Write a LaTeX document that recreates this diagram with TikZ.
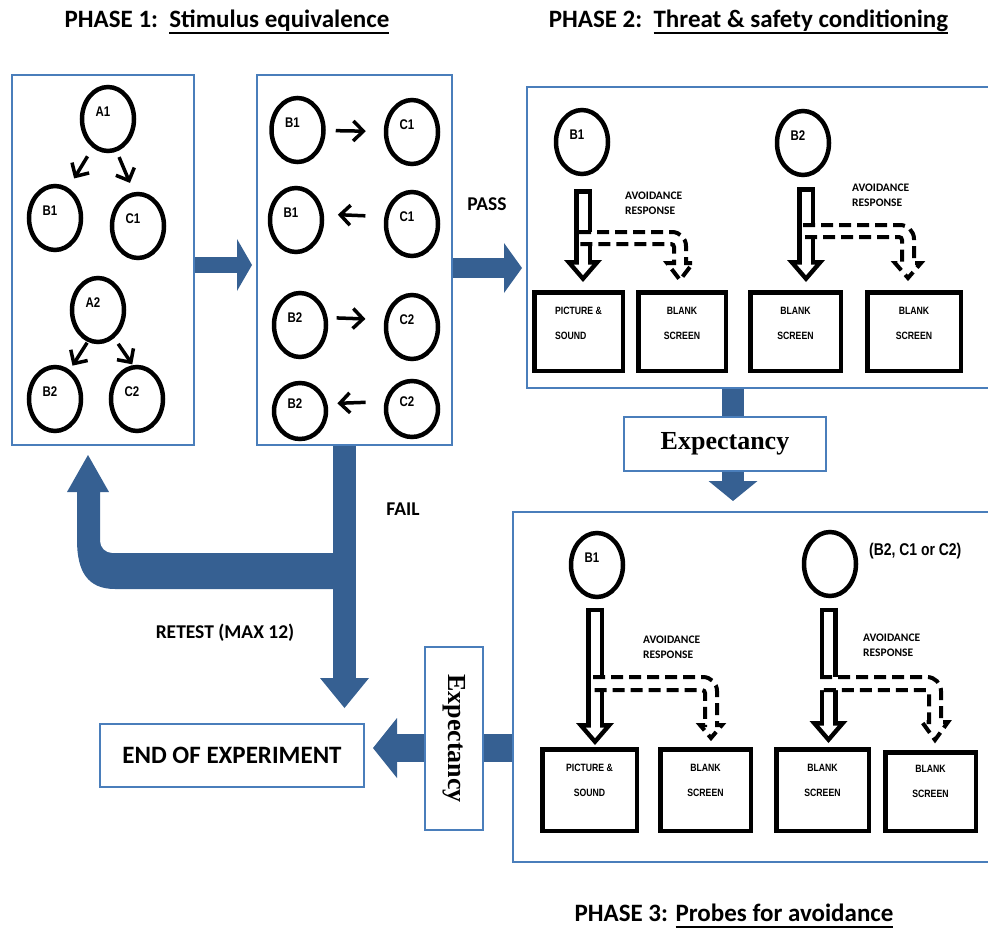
\documentclass[tikz,border=0pt]{standalone}
\usepackage{fontspec}
\setmainfont{Carlito}
\newfontfamily\narrowfont{Liberation Sans}[FakeStretch=0.82]
\newfontfamily\timesfont{Liberation Serif}
\usepackage{graphicx}
\usetikzlibrary{shapes.geometric}
\usetikzlibrary{arrows.meta}
\usetikzlibrary{calc}

\definecolor{arrowblue}{RGB}{54,96,146}
\definecolor{lineblue}{RGB}{74,126,187}

\newsavebox{\ulsave}
\newcommand{\phaseul}[1]{\sbox{\ulsave}{#1}\rlap{\rule[-7pt]{\wd\ulsave}{2.5pt}}\usebox{\ulsave}}

\tikzset{
  heading/.style={font=\bfseries\fontsize{25}{30}\selectfont, inner sep=0pt},
  plain/.style={font=\bfseries\fontsize{19.5}{22}\selectfont, inner sep=0pt},
  avoid/.style={font=\bfseries\fontsize{11.5}{15}\selectfont, inner sep=0pt, align=left, anchor=north west},
  phasebox/.style={draw=lineblue, line width=2pt, inner sep=0pt},
  expbox/.style={draw=lineblue, line width=2pt, fill=white, inner sep=0pt, font=\timesfont\bfseries\fontsize{26}{30}\selectfont},
  stim/.style={draw, ellipse, line width=4.5pt, minimum width=52pt, minimum height=64pt, inner sep=0pt, label={[stimtext]center:#1}},
  stimtext/.style={font=\narrowfont\bfseries\fontsize{14}{16}\selectfont, xshift=-5pt, yshift=7pt},
  screen/.style={draw, line width=4.5pt, minimum height=78.5pt, inner sep=0pt, align=center, text height=33pt, text depth=17.6pt, font=\narrowfont\bfseries\fontsize{10.6}{25}\selectfont},
  tinyarr/.style={line width=3.5pt, -{Straight Barb[length=10pt,width=20pt]}},
  hollow/.style={line width=18pt, -{Triangle[length=22pt,width=38pt,line width=0pt]},
    postaction={draw=white, line width=9pt, shorten <=4.5pt, shorten >=6.9pt, -{Triangle[length=10.6pt,width=18.3pt,line width=0pt]}}},
  dashbent/.style={line width=4pt, dash pattern=on 12pt off 6pt, preaction={fill=white}}
}

\begin{document}
\begin{tikzpicture}[x=1pt,y=-1pt]
\useasboundingbox (0,0) rectangle (988,929);

% headings
\node[heading, anchor=base] (h1) at (227,27) {PHASE 1:\ \ \phaseul{Stimulus equivalence}};
\node[heading, anchor=base] (h2) at (748.5,27) {PHASE 2:\ \ \phaseul{Threat \& safety conditioning}};
\node[heading, anchor=base] (h3) at (734,921) {PHASE 3: \phaseul{Probes for avoidance}};

% phase boxes
\node[phasebox, minimum width=182pt, minimum height=370pt] (eq1) at (103,260) {};
\node[phasebox, minimum width=195pt, minimum height=370pt] (eq2) at (354.5,260) {};
\node[phasebox, minimum width=463pt, minimum height=301pt] (cond) at (758.5,237.5) {};
\node[phasebox, minimum width=477pt, minimum height=350pt] (probe) at (751.5,687) {};
\node[expbox, minimum width=202pt, minimum height=54pt] (expA) at (725,444) {Expectancy};
\node[expbox, minimum width=58pt, minimum height=183pt] (expB) at (454,738.5) {\rotatebox{-90}{Expectancy}};
\node[phasebox, minimum width=264pt, minimum height=63pt, font=\bfseries\fontsize{25}{30}\selectfont] (endexp) at (232,755.5) {END OF EXPERIMENT};

% phase 1, training
\node[stim=A1] (a1) at (108,119) {};
\node[stim=B1] (b1) at (55,218) {};
\node[stim=C1] (c1) at (138,226) {};
\node[stim=A2] (a2) at (98,310) {};
\node[stim=B2] (b2) at (55,399) {};
\node[stim=C2] (c2) at (137,399) {};
\draw[tinyarr, shorten <=10pt, shorten >=11pt] (a1.-118) -- (b1.66);
\draw[tinyarr, shorten <=6pt, shorten >=10pt] (a1.-75) -- (c1.97);
\draw[tinyarr, shorten <=1pt, shorten >=5pt] (a2.-108) -- (b2.63);
\draw[tinyarr, shorten <=7pt, shorten >=1pt] (a2.-60) -- (c2.97);

% phase 1, test
\node[stim=B1] (pb1) at (297.5,130) {};
\node[stim=C1] (pc1) at (412,132) {};
\node[stim=B1] (qb1) at (296,220) {};
\node[stim=C1] (qc1) at (412,224) {};
\node[stim=B2] (pb2) at (300,325) {};
\node[stim=C2] (pc2) at (412,327) {};
\node[stim=B2, minimum height=56pt] (qb2) at (300,411) {};
\node[stim=C2, minimum height=56pt] (qc2) at (412,409) {};
\draw[tinyarr, shorten <=10pt, shorten >=18pt] (pb1) -- (pc1);
\draw[tinyarr, shorten <=19pt, shorten >=14pt] (qc1.165) -- (qb1.12);
\draw[tinyarr, shorten <=9pt, shorten >=19pt] (pb2.15) -- (pc2.165);
\draw[tinyarr, shorten <=19pt, shorten >=10pt] (qc2.165) -- (qb2.15);

% phase 2
\node[stim=B1] (tb1) at (582,142) {};
\node[stim=B2] (tb2) at (803,143) {};
\node[screen, minimum width=88.5pt, align=left] (tpic) at (578.5,331.5) {PICTURE \&\\SOUND};
\node[screen, minimum width=87.5pt] (tblank1) at (682,331.5) {BLANK\\SCREEN};
\node[screen, minimum width=90.5pt] (tblank2) at (795.5,331.5) {BLANK\\SCREEN};
\node[screen, minimum width=93.5pt] (tblank3) at (914,331.5) {BLANK\\SCREEN};
\node[avoid] (av1) at (625,191.3) {AVOIDANCE\\RESPONSE};
\node[avoid] (av2) at (852,183.3) {AVOIDANCE\\RESPONSE};
\draw[hollow] ($(tb1.south)+(1,13)$) -- ($(tb1 |- tpic.north)+(1,-8)$);
\draw[hollow] ($(tb2.south)+(3,10)$) -- ($(tb2 |- tblank2.north)+(3,-8)$);
\draw[dashbent] (579,232) -- (672,232) .. controls (679.7,232) and (686,238.3) .. (686,246) -- (686,263) -- (693,263) -- (680,280) -- (667,263) -- (674,263) -- (674,247) .. controls (674,245.3) and (672.7,244) .. (671,244) -- (579,244);
\draw[dashbent] (803,225) -- (900,225) .. controls (907.7,225) and (914,231.3) .. (914,239) -- (914,263) -- (921,263) -- (908,278) -- (895,263) -- (902,263) -- (902,240) .. controls (902,238.3) and (900.7,237) .. (899,237) -- (803,237);

% phase 3
\node[stim=B1] (rb1) at (597,565) {};
\node[stim={}] (rx) at (830,564) {};
\node[font=\narrowfont\bfseries\fontsize{17}{20}\selectfont, inner sep=0pt, anchor=west] (rxtext) at (869,551) {(B2, C1 or C2)};
\node[screen, minimum width=94.5pt, minimum height=81.5pt, text depth=20.6pt] (rpic) at (589.5,790) {PICTURE \&\\SOUND};
\node[screen, minimum width=90.5pt, minimum height=81.5pt, text depth=20.6pt] (rblank1) at (705.5,790) {BLANK\\SCREEN};
\node[screen, minimum width=92.5pt, minimum height=81.5pt, text depth=20.6pt] (rblank2) at (822.5,790) {BLANK\\SCREEN};
\node[screen, minimum width=90.5pt, text depth=20.6pt] (rblank3) at (930.5,791.5) {BLANK\\SCREEN};
\node[avoid] (av3) at (643,635.3) {AVOIDANCE\\RESPONSE};
\node[avoid] (av4) at (863,633.3) {AVOIDANCE\\RESPONSE};
\draw[hollow] ($(rb1.south)+(-2,8.5)$) -- ($(rb1 |- rpic.north)+(-2,-2)$);
\draw[hollow] ($(rx.south)+(-1.5,9.5)$) -- ($(rx |- rblank2.north)+(-1.5,-4)$);
\draw[dashbent] (593,677) -- (703,677) .. controls (710.7,677) and (717,683.3) .. (717,691) -- (717,725) -- (722,725) -- (711,738) -- (700,725) -- (705,725) -- (705,693) .. controls (705,691.3) and (703.7,690) .. (702,690) -- (593,690);
\draw[dashbent] (820,677) -- (927,677) .. controls (934.7,677) and (941,683.3) .. (941,691) -- (941,722) -- (948,722) -- (935,740) -- (922,722) -- (929,722) -- (929,693) .. controls (929,691.3) and (927.7,690) .. (926,690) -- (820,690);

% flow arrows
\draw[arrowblue, line width=16pt, -{Triangle[length=15pt,width=52pt,line width=0pt]}] ($(eq1.east)+(0,5)$) -- ($(eq1.east -| eq2.west)+(-4,5)$);
\draw[arrowblue, line width=20pt, -{Triangle[length=18pt,width=50pt,line width=0pt]}] ($(eq2.east)+(0,8)$) -- ($(eq2.east -| cond.west)+(-4,8)$);
\draw[arrowblue, line width=22pt] ($(expA.north |- cond.south)+(8,0)$) -- ($(expA.north)+(8,0)$);
\draw[arrowblue, line width=22pt, -{Triangle[length=20pt,width=49pt,line width=0pt]}] ($(expA.south)+(8,0)$) -- ($(expA.south |- probe.north)+(8,-10)$);
\draw[arrowblue, line width=28pt] ($(probe.west)+(0,61)$) -- ($(expB.east |- probe.west)+(0,61)$);
\draw[arrowblue, line width=28pt, -{Triangle[length=24pt,width=60pt,line width=0pt]}] ($(expB.west |- probe.west)+(0,61)$) -- ($(endexp.east |- probe.west)+(8,61)$);
\draw[arrowblue, line width=23pt, -{Triangle[length=30pt,width=49pt,line width=0pt]}] ($(eq2.south)+(-10,0)$) -- ($(eq2.south |- endexp.north)+(-10,-15)$);
\fill[arrowblue] (334,553) -- (112,553) .. controls (105.4,553) and (100,547.6) .. (100,541) -- (100,492) -- (109,492) -- (88,455) -- (67,492) -- (77,492) -- (77,540) .. controls (77,572) and (88,589) .. (115,589) -- (334,589) -- cycle;

\node[plain] (pass) at (487,204) {PASS};
\node[plain] (fail) at (403,509) {FAIL};
\node[plain] (retest) at (225,633) {RETEST (MAX 12)};
\end{tikzpicture}
\end{document}
